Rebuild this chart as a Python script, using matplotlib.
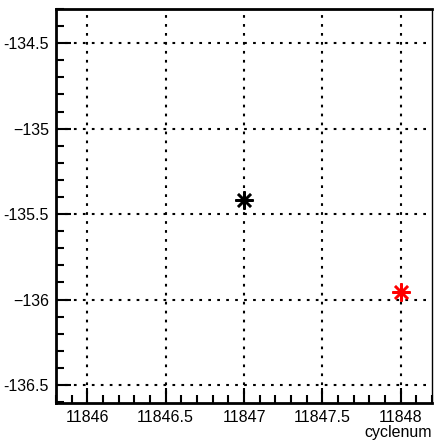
import matplotlib
matplotlib.use("Agg")
import matplotlib.pyplot as plt
from matplotlib.ticker import MultipleLocator, FixedLocator, FixedFormatter

plt.rcParams['font.family'] = ['Liberation Sans', 'DejaVu Sans']

x_black = [11847]
y_black = [-135.42]
x_red = [11848]
y_red = [-135.955]

xticks = [11846, 11846.5, 11847, 11847.5, 11848]
xticklabels = ["11846", "11846.5", "11847", "11847.5", "11848"]
yticks = [-134.5, -135, -135.5, -136, -136.5]
yticklabels = ["-134.5", "\u2212135", "-135.5", "\u2212136", "-136.5"]

fig = plt.figure(figsize=(4.34, 4.40), dpi=100)
ax = fig.add_axes([56/434, 1-403/440, (432-56)/434, (403-9)/440])

ax.plot(x_black, y_black, linestyle='none', marker=(8, 2, 0), markersize=13,
        markeredgewidth=1.8, color='black', zorder=5)
ax.plot(x_red, y_red, linestyle='none', marker=(8, 2, 0), markersize=13,
        markeredgewidth=1.8, color='red', zorder=5)

ax.set_xlim(11845.8, 11848.2)
ax.set_ylim(-136.605, -134.30)

ax.xaxis.set_major_locator(FixedLocator(xticks))
ax.xaxis.set_major_formatter(FixedFormatter(xticklabels))
ax.yaxis.set_major_locator(FixedLocator(yticks))
ax.yaxis.set_major_formatter(FixedFormatter(yticklabels))
ax.xaxis.set_minor_locator(MultipleLocator(0.1))
ax.yaxis.set_minor_locator(MultipleLocator(0.1))

ax.tick_params(axis='both', which='both', direction='in', top=False, right=False,
               labelsize=11.5, colors='black')
ax.tick_params(axis='both', which='major', length=11, width=1.5, pad=5)
ax.tick_params(axis='both', which='minor', length=6, width=1.5)

ax.grid(True, which='major', linestyle=(0, (1.3, 3.0)), color='black', linewidth=1.5)

for s in ['left', 'bottom', 'top']:
    ax.spines[s].set_linewidth(2)
ax.spines['right'].set_linewidth(1)

fig.text(432/434, 1-432/440, "cyclenum", ha='right', va='center', fontsize=11.5)

fig.savefig("out.png", dpi=100)
